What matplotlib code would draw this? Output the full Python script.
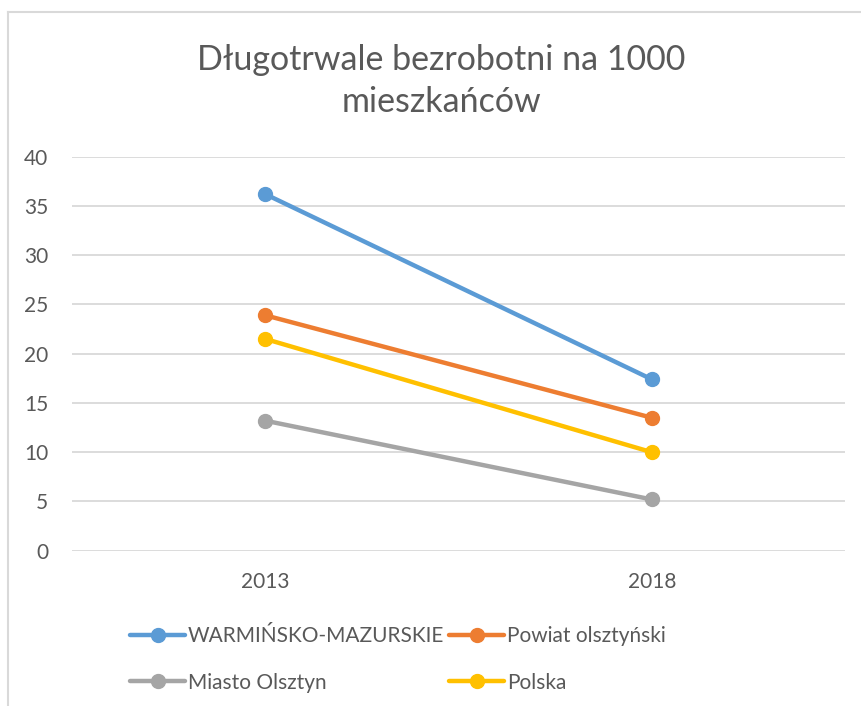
import numpy as np
import matplotlib
matplotlib.use('Agg')
import matplotlib.pyplot as plt
from matplotlib.lines import Line2D

# dane
years = ['2013', '2018']
warminsko = [36.2, 17.4]
powiat = [23.9, 13.5]
miasto = [13.2, 5.2]
polska = [21.5, 10.0]

series = [
    ('WARMIŃSKO-MAZURSKIE', warminsko, '#5B9BD5'),
    ('Powiat olsztyński', powiat, '#ED7D31'),
    ('Miasto Olsztyn', miasto, '#A5A5A5'),
    ('Polska', polska, '#FFC000'),
]

plt.rcParams['font.family'] = ['Lato', 'DejaVu Sans']
txt = '#595959'

fig = plt.figure(figsize=(8.61, 7.06), dpi=100)
W, H = 861, 706
ax = fig.add_axes([72 / W, 1 - 550.7 / H, (845 - 72) / W, (550.7 - 156.7) / H])

x = np.arange(len(years))
lines = {}
for name, vals, col in series:
    ln, = ax.plot(x, vals, color=col, lw=3.2, marker='o', ms=10,
                  solid_capstyle='round', zorder=3, label=name)
    lines[name] = ln

ax.set_xlim(-0.5, len(years) - 0.5)
ax.set_ylim(0, 40)
ax.set_yticks(range(0, 41, 5))
ax.set_xticks(x)
ax.set_xticklabels(years)
ax.grid(axis='y', color='#D9D9D9', lw=1.3)
ax.set_axisbelow(True)
for s in ax.spines.values():
    s.set_visible(False)
ax.tick_params(length=0, labelsize=15, colors=txt)
ax.tick_params(axis='y', pad=17)
ax.tick_params(axis='x', pad=15)

fig.text(441 / W, 1 - 81 / H, 'Długotrwale bezrobotni na 1000\nmieszkańców',
         ha='center', va='center', fontsize=24.5, color=txt, linespacing=1.42)

# legenda w dwóch kolumnach
leg_kw = dict(loc='upper left', frameon=False, fontsize=15, handlelength=2.65,
              handletextpad=0.12, labelspacing=1.25, labelcolor=txt,
              borderpad=0, borderaxespad=0)
fig.legend(handles=[lines['WARMIŃSKO-MAZURSKIE'], lines['Miasto Olsztyn']],
           bbox_to_anchor=(130 / W, 1 - 626.5 / H), **leg_kw)
fig.legend(handles=[lines['Powiat olsztyński'], lines['Polska']],
           bbox_to_anchor=(449 / W, 1 - 626.5 / H), **leg_kw)

# ramka wykresu
fig.add_artist(Line2D([8 / W, 8 / W], [0, 1 - 12 / H], transform=fig.transFigure,
                      color='#D9D9D9', lw=1.5))
fig.add_artist(Line2D([8 / W, 1], [1 - 12 / H, 1 - 12 / H], transform=fig.transFigure,
                      color='#D9D9D9', lw=1.5))

fig.savefig('out.png', dpi=100, facecolor='white')
